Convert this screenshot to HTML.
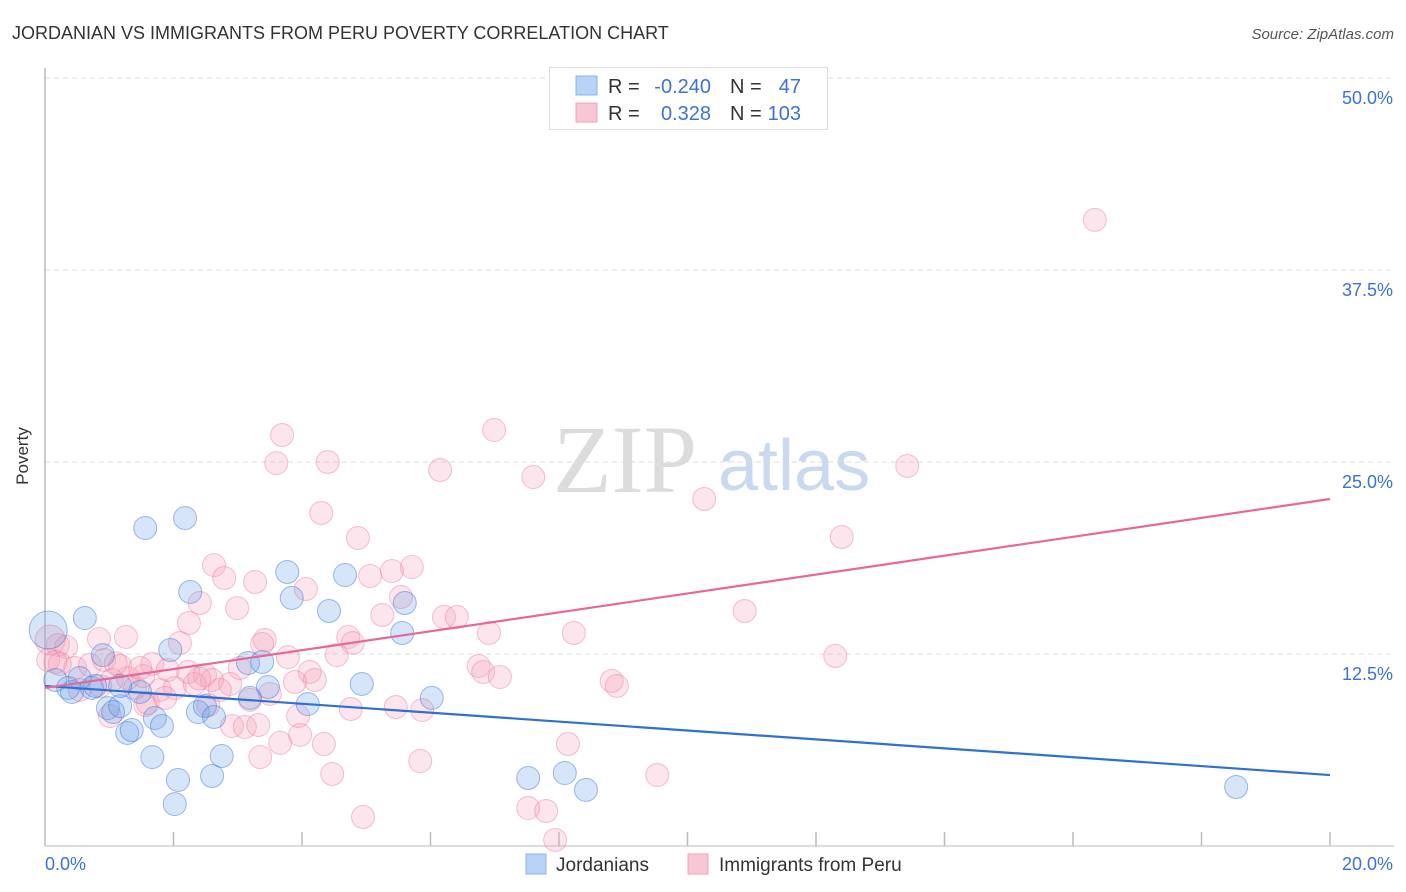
<!DOCTYPE html>
<html><head><meta charset="utf-8"><style>
body{margin:0;background:#fff;font-family:"Liberation Sans",sans-serif;}
#wrap{position:relative;width:1406px;height:892px;overflow:hidden;}
</style></head><body>
<div id="wrap">
<svg id="chart" width="1406" height="892" xmlns="http://www.w3.org/2000/svg">
<text x="12" y="39" font-size="18" fill="#333">JORDANIAN VS IMMIGRANTS FROM PERU POVERTY CORRELATION CHART</text>
<text x="1394" y="39" font-size="15" fill="#555" font-style="italic" text-anchor="end">Source: ZipAtlas.com</text>
<text x="28" y="456" font-size="17" fill="#333" text-anchor="middle" transform="rotate(-90 28 456)">Poverty</text>
<g>
<text x="553" y="492" font-size="96" font-family="Liberation Serif,serif" fill="#dcdcdc">ZIP</text>
<text x="718" y="490" font-size="72" fill="#c9daf0">atlas</text>
</g>
<g id="grid"></g>
<g id="axes"></g>
<g id="pts"></g>
<g id="lines"></g>
<g>
<rect x="549.5" y="67.5" width="278" height="62" fill="#fff" stroke="#ddd"/>
<rect x="576" y="76" width="21" height="19" fill="#b8d3f5" stroke="#8ab3e8"/>
<rect x="576" y="103" width="21" height="19" fill="#f9c6d5" stroke="#f0a3bb"/>
<text x="608" y="93" font-size="20" fill="#333">R =</text>
<text x="711" y="93" font-size="20" fill="#3a72d8" text-anchor="end">-0.240</text>
<text x="730" y="93" font-size="20" fill="#333">N =</text>
<text x="801" y="93" font-size="20" fill="#3a72d8" text-anchor="end">47</text>
<text x="608" y="120" font-size="20" fill="#333">R =</text>
<text x="711" y="120" font-size="20" fill="#3a72d8" text-anchor="end">0.328</text>
<text x="730" y="120" font-size="20" fill="#333">N =</text>
<text x="801" y="120" font-size="20" fill="#3a72d8" text-anchor="end">103</text>
</g>
<g>
<rect x="526" y="854" width="20" height="20" fill="#b8d3f5" stroke="#8ab3e8"/>
<text x="556" y="871" font-size="19" fill="#333">Jordanians</text>
<rect x="688" y="854" width="20" height="20" fill="#f9c6d5" stroke="#f0a3bb"/>
<text x="719" y="871" font-size="19" fill="#333">Immigrants from Peru</text>
</g>
</svg>
</div>
<script>
const yTicks=[12.5,25,37.5,50];
const yTickLabels=["12.5%","25.0%","37.5%","50.0%"];
const xTickCount=10;
const blueX=[1.56,2.18,0.62,2.26,1.95,0.90,3.16,3.38,3.77,3.84,4.42,4.67,5.56,5.60,4.93,6.02,3.47,4.09,0.16,0.36,0.42,0.73,0.78,0.98,1.06,1.17,1.28,1.35,1.48,1.71,1.82,2.38,2.49,2.63,3.19,1.67,2.75,2.07,2.60,2.02,7.52,8.09,8.42,18.54,0.05,0.54,1.17];
const blueY=[20.70,21.35,14.84,16.54,12.76,12.43,11.91,11.98,17.84,16.15,15.30,17.64,13.87,15.82,10.55,9.64,10.35,9.24,10.81,10.29,10.03,10.29,10.42,8.98,8.72,9.11,7.36,7.55,10.03,8.33,7.81,8.72,9.11,8.40,9.64,5.79,5.86,4.30,4.56,2.73,4.43,4.75,3.65,3.84,14.06,10.94,10.42];
const pinkX=[16.34,6.99,3.69,3.60,4.40,6.15,7.60,13.42,10.26,4.30,4.87,12.40,2.63,2.79,5.71,5.40,5.06,3.27,4.06,2.41,2.99,5.54,5.25,6.21,6.41,10.89,2.24,1.26,0.84,2.10,3.42,3.38,4.72,4.79,6.91,8.23,12.30,3.78,4.54,0.08,0.20,0.33,0.05,0.23,0.47,0.70,0.92,1.17,1.67,1.91,2.23,2.49,3.03,4.12,4.20,3.89,6.75,6.82,7.08,8.82,8.90,1.04,1.29,1.53,1.79,2.02,2.33,2.60,2.88,3.50,3.19,1.56,1.60,1.01,2.54,3.94,4.76,5.46,5.87,2.91,3.11,3.66,4.34,8.14,3.35,5.84,9.53,4.47,7.52,7.80,4.95,7.94,0.54,0.86,1.40,2.72,0.16,1.87,1.48,3.32,3.97,1.10,2.40];
const pinkY=[40.76,27.08,26.76,24.93,25.0,24.48,24.02,24.74,22.59,21.68,20.05,20.12,18.29,17.45,18.16,17.90,17.58,17.19,16.73,15.82,15.49,16.21,15.04,14.91,14.91,15.30,14.52,13.61,13.48,13.22,13.41,13.15,13.61,13.22,13.87,13.87,12.37,12.30,12.43,13.41,13.09,12.96,12.11,11.85,11.59,11.78,12.11,11.72,11.85,11.46,11.33,11.13,11.59,11.33,10.81,10.68,11.72,11.33,11.0,10.74,10.42,10.81,10.94,11.07,10.16,10.29,10.55,10.81,10.55,9.90,9.51,9.18,9.31,8.46,9.18,8.46,8.92,9.05,8.85,7.81,7.75,6.71,6.64,6.64,5.79,5.53,4.62,4.69,2.47,2.28,1.89,0.39,10.16,10.42,10.29,10.16,11.98,9.64,11.59,7.88,7.23,11.9,10.9];
const blueTrend=[10.42,4.62];
const pinkTrend=[10.29,22.59];
const X0=45,X1=1330,Y0=846,PXY=192/12.5;
const xs=v=>X0+v/20*(X1-X0);
const ys=v=>Y0-v*PXY;
const NS="http://www.w3.org/2000/svg";
function mk(tag,attrs,parent){const e=document.createElementNS(NS,tag);for(const k in attrs)e.setAttribute(k,attrs[k]);parent.appendChild(e);return e;}
const grid=document.getElementById('grid'),axes=document.getElementById('axes'),pts=document.getElementById('pts'),lines=document.getElementById('lines');
yTicks.forEach((t,i)=>{
 const l=mk('line',{x1:X0,x2:1394,y1:ys(t),y2:ys(t),stroke:'#ddd','stroke-dasharray':'5,4'},grid);
 
 
 const tx=mk('text',{x:1393,y:ys(t)+26,'font-size':18,fill:'#3a72d8','text-anchor':'end'},axes);
 tx.textContent=yTickLabels[i];
 
 
});
const ax=mk('line',{x1:X0,x2:X0,y1:68,y2:Y0,stroke:'#bbb','stroke-width':1.5},axes);


const bx=mk('line',{x1:X0,x2:1394,y1:Y0,y2:Y0,stroke:'#bbb','stroke-width':1},axes);


for(let i=1;i<=xTickCount;i++){
 const x=xs(i*20/xTickCount);
 const t=mk('line',{x1:x,x2:x,y1:Y0,y2:Y0-14,stroke:'#bbb','stroke-width':1.5},axes);
 
 
}
const xl=mk('text',{x:45,y:870,'font-size':18,fill:'#3a72d8'},axes);xl.textContent='0.0%';


const xr=mk('text',{x:1393,y:870,'font-size':18,fill:'#3a72d8','text-anchor':'end'},axes);xr.textContent='20.0%';


pinkX.forEach((v,i)=>{
 const r=(i===39)?15:11.5;
 const c=mk('circle',{cx:xs(v),cy:ys(pinkY[i]),r:r,fill:'rgba(244,160,188,0.28)',stroke:'rgba(232,120,155,0.45)','stroke-width':1},pts);
 
 
});
blueX.forEach((v,i)=>{
 const r=(i===44)?19:11.5;
 const c=mk('circle',{cx:xs(v),cy:ys(blueY[i]),r:r,fill:'rgba(110,160,230,0.28)',stroke:'rgba(60,120,215,0.5)','stroke-width':1},pts);
 
 
});
const bl=mk('line',{x1:xs(0),y1:ys(blueTrend[0]),x2:xs(20),y2:ys(blueTrend[1]),stroke:'#2f6fd6','stroke-width':2.2},lines);


const pl=mk('line',{x1:xs(0),y1:ys(pinkTrend[0]),x2:xs(20),y2:ys(pinkTrend[1]),stroke:'#e8679a','stroke-width':2.2},lines);


</script>
</body></html>
